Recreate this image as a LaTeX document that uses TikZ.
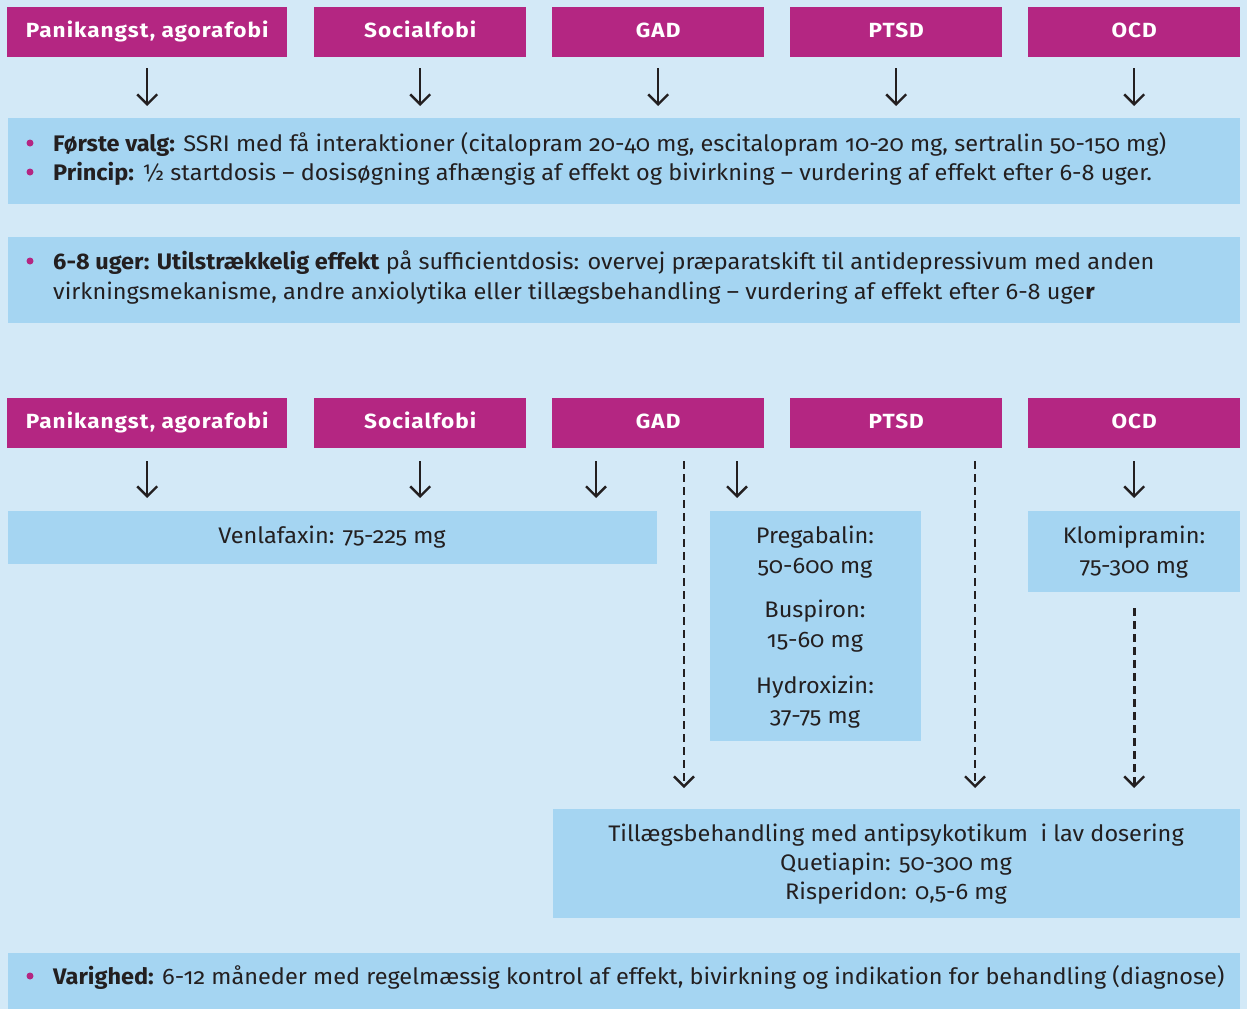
\documentclass[tikz,border=0pt]{standalone}
\usepackage{fontspec}
\setmainfont{Fira Sans}[Numbers=OldStyle, FakeStretch=1.045]
\newfontfamily\hdrfont{Fira Sans}[Numbers=OldStyle, FakeStretch=1.10, LetterSpace=5]
\usetikzlibrary{arrows.meta}
\definecolor{bg}{HTML}{D3E9F7}
\definecolor{boxc}{HTML}{A5D5F2}
\definecolor{mag}{HTML}{B42682}
\definecolor{ink}{HTML}{231F20}
\begin{document}
\begin{tikzpicture}[x=1pt,y=-1pt,
  hdr/.style={fill=mag, text=white, font=\hdrfont\bfseries\fontsize{20.5}{24}\selectfont, minimum height=50pt, inner sep=0pt, text height=14pt, text depth=3pt, anchor=north west},
  box/.style={fill=boxc, inner sep=0pt, anchor=north west},
  txt/.style={text=ink, font=\fontsize{22.5}{27}\selectfont, inner sep=0pt},
  arr/.style={draw=ink, line width=2.4pt, -{Straight Barb[length=10pt,width=20pt,line width=2.4pt]}},
  darr/.style={arr, line width=2.8pt, dash pattern=on 8pt off 5pt},
  bdot/.style={circle, fill=mag, minimum size=7pt, inner sep=0pt}]

\fill[bg] (0,0) rectangle (1247,1009);
\useasboundingbox (0,0) rectangle (1247,1009);

% ---- row 1 headers
\node[hdr, minimum width=280pt] (h1) at (7,7) {Panikangst, agorafobi};
\node[hdr, minimum width=212pt] (h2) at (314,7) {Socialfobi};
\node[hdr, minimum width=212pt] (h3) at (552,7) {GAD};
\node[hdr, minimum width=212pt] (h4) at (790,7) {PTSD};
\node[hdr, minimum width=212pt] (h5) at (1028,7) {OCD};

% ---- box 1
\node[box, minimum width=1232pt, minimum height=86pt] (b1) at (8,118) {};
\node[bdot] (d1) at (30,143) {};
\node[txt, anchor=base west] (t1) at (53,151) {\textbf{Første valg:} SSRI med få interaktioner (citalopram 20-40 mg, escitalopram 10-20 mg, sertralin 50-150 mg)};
\node[bdot] (d2) at (30,172) {};
\node[txt, anchor=base west] (t2) at (53,180) {\textbf{Princip:} ½ startdosis – dosisøgning afhængig af effekt og bivirkning – vurdering af effekt efter 6-8 uger.};

\foreach \h in {h1,h2,h3,h4,h5}
  \draw[arr, shorten <=11pt, shorten >=12pt] (\h.south) -- (\h.south |- b1.north);

% ---- box 2
\node[box, minimum width=1232pt, minimum height=86pt] (b2) at (8,237) {};
\node[bdot] (d3) at (30,261) {};
\node[txt, anchor=base west] (t3) at (53,269) {\textbf{6-8 uger: Utilstrækkelig effekt} på sufficientdosis: overvej præparatskift til antidepressivum med anden};
\node[txt, anchor=base west] (t4) at (53,299) {virkningsmekanisme, andre anxiolytika eller tillægsbehandling – vurdering af effekt efter 6-8 uge\textbf{r}};

% ---- row 2 headers
\node[hdr, minimum width=280pt] (k1) at (7,398) {Panikangst, agorafobi};
\node[hdr, minimum width=212pt] (k2) at (314,398) {Socialfobi};
\node[hdr, minimum width=212pt] (k3) at (552,398) {GAD};
\node[hdr, minimum width=212pt] (k4) at (790,398) {PTSD};
\node[hdr, minimum width=212pt] (k5) at (1028,398) {OCD};

% ---- row 2 boxes
\node[box, minimum width=649pt, minimum height=53pt] (venl) at (8,511) {};
\node[txt, anchor=base] (tv) at (332,543) {Venlafaxin: 75-225 mg};

\node[box, minimum width=211pt, minimum height=230pt] (preg) at (710,511) {};
\node[txt, anchor=base] (p1) at (815,543) {Pregabalin:};
\node[txt, anchor=base] (p2) at (815,573) {50-600 mg};
\node[txt, anchor=base] (p3) at (815,617) {Buspiron:};
\node[txt, anchor=base] (p4) at (815,647) {15-60 mg};
\node[txt, anchor=base] (p5) at (815,693) {Hydroxizin:};
\node[txt, anchor=base] (p6) at (815,723) {37-75 mg};

\node[box, minimum width=212pt, minimum height=81pt] (klom) at (1028,511) {};
\node[txt, anchor=base] (kt1) at (1134,543) {Klomipramin:};
\node[txt, anchor=base] (kt2) at (1134,573) {75-300 mg};

\node[box, minimum width=687pt, minimum height=109pt] (till) at (553,809) {};
\node[txt, anchor=base] (tt1) at (896,841) {Tillægsbehandling med antipsykotikum \ i lav dosering};
\node[txt, anchor=base] (tt2) at (896,870) {Quetiapin: 50-300 mg};
\node[txt, anchor=base] (tt3) at (896,899) {Risperidon: 0,5-6 mg};

\node[box, minimum width=1232pt, minimum height=56pt] (vb) at (8,953) {};
\node[bdot] (d4) at (30,976) {};
\node[txt, anchor=base west] (tvb) at (53,984) {\textbf{Varighed:} 6-12 måneder med regelmæssig kontrol af effekt, bivirkning og indikation for behandling (diagnose)};

% ---- row 2 arrows
\coordinate (gV) at (596,448);
\coordinate (gD) at (684,448);
\coordinate (gP) at (737,448);
\coordinate (pD) at (975,448);
\draw[arr, shorten <=13pt, shorten >=13pt] (k1.south) -- (k1.south |- venl.north);
\draw[arr, shorten <=13pt, shorten >=13pt] (k2.south) -- (k2.south |- venl.north);
\draw[arr, shorten <=13pt, shorten >=13pt] (gV) -- (gV |- venl.north);
\draw[darr, shorten <=13pt, shorten >=21pt] (gD) -- (gD |- till.north);
\draw[arr, shorten <=13pt, shorten >=13pt] (gP) -- (gP |- preg.north);
\draw[darr, shorten <=13pt, shorten >=21pt] (pD) -- (pD |- till.north);
\draw[arr, shorten <=13pt, shorten >=13pt] (k5.south) -- (k5.south |- klom.north);
\draw[darr, shorten <=16pt, shorten >=21pt] (klom.south) -- (klom.south |- till.north);
\end{tikzpicture}
\end{document}
